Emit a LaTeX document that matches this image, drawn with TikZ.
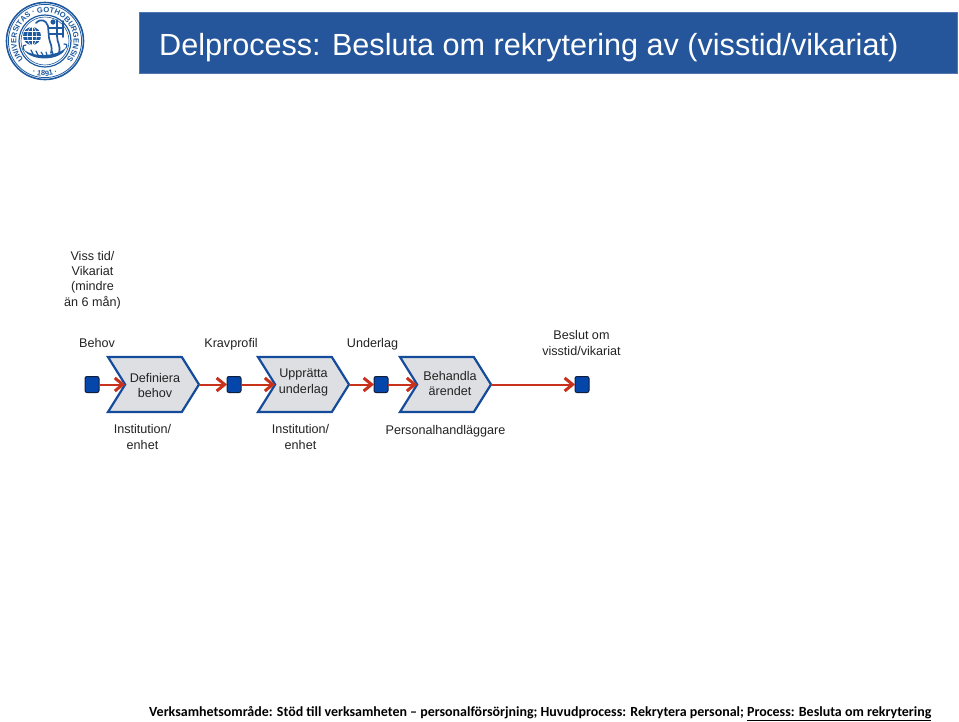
\documentclass[tikz,border=0pt]{standalone}
\usepackage{fontspec}
\setmainfont{Liberation Sans}
\newfontfamily\footfont{Carlito}
\usetikzlibrary{arrows.meta,shapes.symbols,decorations.text}
\definecolor{barblue}{RGB}{37,85,154}
\definecolor{sealblue}{RGB}{30,90,160}
\definecolor{chevfill}{RGB}{222,223,227}
\definecolor{chevline}{RGB}{20,75,155}
\definecolor{flowred}{RGB}{200,50,28}
\definecolor{sqfill}{RGB}{5,70,170}
\definecolor{sqline}{RGB}{15,30,60}
\definecolor{txt}{RGB}{35,35,35}
\tikzset{
  lbl/.style={font=\fontsize{12.6}{15.2}\selectfont,text=txt,align=center,inner sep=0pt},
  chev/.style={shape=signal,signal from=west,signal to=east,signal pointer angle=116,
    draw=chevline,fill=chevfill,line width=2.2pt,minimum width=91pt,minimum height=55pt,inner sep=0pt,outer sep=0pt},
  sq/.style={draw=sqline,fill=sqfill,line width=1pt,rounded corners=2pt,minimum width=14pt,minimum height=16pt,inner sep=0pt,outer sep=0pt},
  flow/.style={draw=flowred,line width=2pt,-{Straight Barb[length=8pt,width=13pt,line width=3pt]}},
  seal/.style={draw=sealblue}
}
\begin{document}
\begin{tikzpicture}[x=1pt,y=-1pt]
\useasboundingbox (0,0) rectangle (959,721);
\fill[white] (0,0) rectangle (959,721);
% seal
\begin{scope}[shift={(45,41)}]
  \draw[seal,line width=1.6pt] (0,0) circle (38.5);
  \draw[seal,line width=.8pt] (0,0) circle (36.6);
  \draw[seal,line width=1.2pt] (0,0) circle (26);
  \draw[seal,line width=.6pt] (0,0) circle (24);
  \begin{scope}[y=1pt]
  \path[decorate,decoration={text along path,text align=center,
     text={|\fontsize{7.6}{8}\bfseries\color{sealblue}|UNIVERSITAS · GOTHOBURGENSIS}}]
     (232:28.6) arc (232:-52:28.6);
  \path[decorate,decoration={text along path,text align=center,
     text={|\fontsize{7.6}{8}\bfseries\color{sealblue}|· 1891 ·}}]
     (238:35) arc (238:302:35);
  \end{scope}
  % globe
  \fill[sealblue] (-13,-5) circle (9);
  \draw[white,line width=.5pt] (-13,-14) -- (-13,4) (-22,-5) -- (-4,-5) (-21,-9.5) -- (-5,-9.5) (-21,-.5) -- (-5,-.5);
  \draw[white,line width=.5pt] (-13,-5) ellipse (4.5 and 9);
  % figures
  \draw[sealblue,line width=1.7pt,line cap=round]
    (-9,-18) .. controls (-4,-23) and (1,-21) .. (3,-15)
    (3,-15) -- (4,-3) .. controls (5,3) and (8,5) .. (6,12)
    (12,-21) -- (12,-5) .. controls (12,2) and (16,4) .. (14,12)
    (4,-13) -- (17,-13) (4,-7) -- (17,-7) (18,-20) -- (18,-4);
  \fill[sealblue] (8,-19) circle (2.6);
  % ship
  \fill[sealblue] (-21,9) .. controls (-12,16) and (10,16) .. (21,7)
     .. controls (16,20) and (-13,21) .. (-21,9) -- cycle;
  \draw[sealblue,line width=1.2pt,line cap=round] (-21,9) .. controls (-23,5) and (-21,3) .. (-19,4)
    (21,7) .. controls (23,4) and (21,2) .. (19,3)
    (-14,9) -- (-12,13) (-9,10) -- (-7,14) (-4,11) -- (-2,14) (1,11) -- (2,14) (7,10) -- (8,13);
\end{scope}
% title bar
\node[draw=barblue!80!white,fill=barblue,line width=.8pt,minimum width=818pt,minimum height=61pt,inner sep=0pt,anchor=north west] (bar) at (139,12) {};
\node[anchor=base west,inner sep=0pt,text=white,font=\fontsize{30.6}{36}\selectfont] (title) at (159,55) {Delprocess: Besluta om rekrytering av (visstid/vikariat)};
% top labels
\node[lbl] (scope) at (92.5,280) {Viss tid/\\Vikariat\\(mindre\\än 6 mån)};
\node[lbl] (behov) at (97,343) {Behov};
\node[lbl] (krav) at (231,344.5) {Kravprofil};
\node[lbl] (under) at (372.5,344.5) {Underlag};
\node[lbl] (beslut) at (581.5,343) {Beslut om\\visstid/vikariat};
% chevrons
\node[chev] (c1) at (153.5,384.5) {};
\node[chev] (c2) at (303.5,384.5) {};
\node[chev] (c3) at (445.5,384.5) {};
\node[lbl] (t1) at (155,385.5) {Definiera\\behov};
\node[lbl] (t2) at (303.5,382.5) {Upprätta\\underlag};
\node[lbl] (t3) at (450,383.5) {Behandla\\ärendet};
% squares
\node[sq] (s1) at (92,384.5) {};
\node[sq] (s2) at (234,384.5) {};
\node[sq] (s3) at (381,384.5) {};
\node[sq] (s4) at (582,384.5) {};
% connectors
\draw[flow] (s1.east) -- (c1.west);
\draw[flow] (c1.east) -- (s2.west);
\draw[flow] (s2.east) -- (c2.west);
\draw[flow] (c2.east) -- (s3.west);
\draw[flow] (s3.east) -- (c3.west);
\draw[flow] (c3.east) -- (s4.west);
% roles
\node[lbl] (r1) at (142.5,437) {Institution/\\enhet};
\node[lbl] (r2) at (300.5,437) {Institution/\\enhet};
\node[lbl] (r3) at (445.5,431) {Personalhandläggare};
% footer
\node[anchor=base west,inner sep=0pt,text=black,font=\footfont\bfseries\fontsize{13.96}{16}\selectfont] (foot) at (149,716) {Verksamhetsområde: Stöd till verksamheten – personalförsörjning; Huvudprocess: Rekrytera personal; \underline{Process: Besluta om rekrytering}};
\end{tikzpicture}
\end{document}
